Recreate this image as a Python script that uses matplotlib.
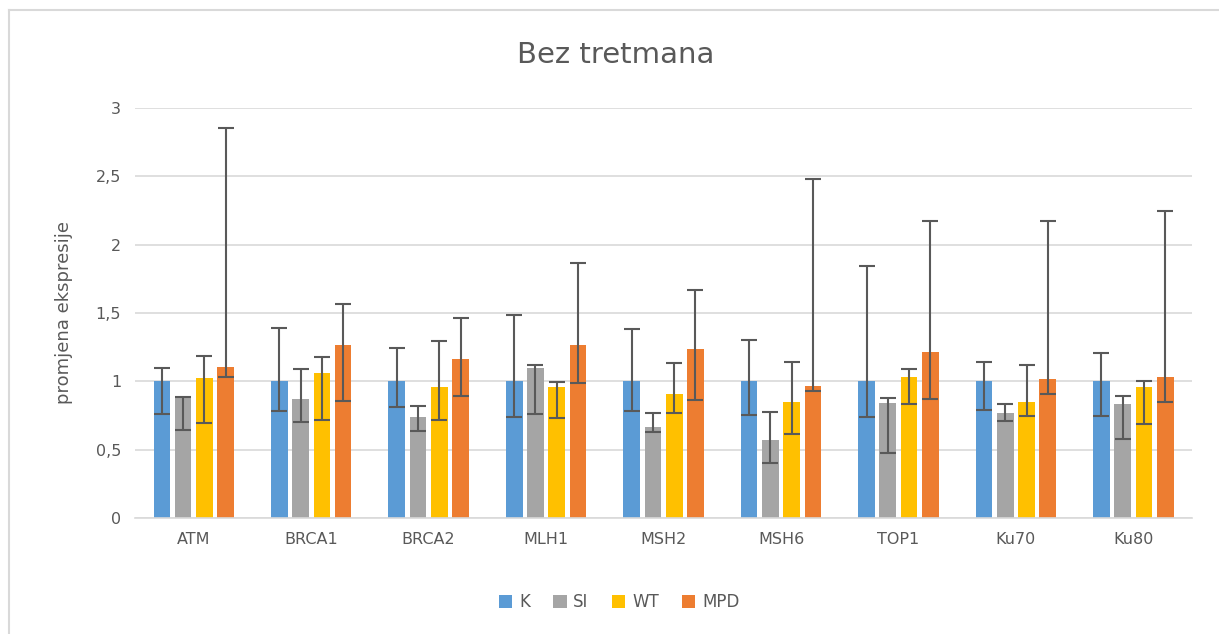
import numpy as np
import matplotlib
matplotlib.use("Agg")
import matplotlib.pyplot as plt
from matplotlib.lines import Line2D

genes = ["ATM", "BRCA1", "BRCA2", "MLH1", "MSH2", "MSH6", "TOP1", "Ku70", "Ku80"]
series = ["K", "SI", "WT", "MPD"]
colors = ["#5B9BD5", "#A5A5A5", "#FFC000", "#ED7D31"]

# bar heights
k_vals = [1.0, 1.0, 1.0, 1.0, 1.0, 1.0, 1.0, 1.0, 1.0]
si_vals = [0.876, 0.868, 0.739, 1.098, 0.666, 0.568, 0.844, 0.766, 0.837]
wt_vals = [1.027, 1.061, 0.959, 0.959, 0.907, 0.849, 1.029, 0.846, 0.959]
mpd_vals = [1.105, 1.268, 1.161, 1.266, 1.234, 0.966, 1.212, 1.020, 1.029]

# error bar ends (upper / lower)
k_hi = [1.10, 1.388, 1.244, 1.488, 1.385, 1.302, 1.846, 1.139, 1.207]
k_lo = [0.759, 0.785, 0.815, 0.737, 0.783, 0.751, 0.741, 0.790, 0.746]
si_hi = [0.883, 1.093, 0.822, 1.119, 0.766, 0.776, 0.880, 0.832, 0.893]
si_lo = [0.642, 0.705, 0.637, 0.761, 0.627, 0.402, 0.476, 0.710, 0.581]
wt_hi = [1.183, 1.178, 1.295, 0.993, 1.137, 1.139, 1.090, 1.119, 1.003]
wt_lo = [0.695, 0.719, 0.717, 0.729, 0.771, 0.617, 0.834, 0.749, 0.690]
mpd_hi = [2.851, 1.568, 1.461, 1.866, 1.668, 2.48, 2.176, 2.176, 2.244]
mpd_lo = [1.034, 0.858, 0.890, 0.990, 0.866, 0.932, 0.873, 0.907, 0.849]

values = [k_vals, si_vals, wt_vals, mpd_vals]
highs = [k_hi, si_hi, wt_hi, mpd_hi]
lows = [k_lo, si_lo, wt_lo, mpd_lo]

plt.rcParams['font.family'] = ['DejaVu Sans']
fig = plt.figure(figsize=(12.19, 6.34), dpi=100)
ax = fig.add_axes([0.1108, 0.183, 0.8671, 0.6467])

x = np.arange(len(genes))
step = 0.181
width = 0.142
for i, name in enumerate(series):
    pos = x + (i - 1.5) * step
    v = np.array(values[i])
    hi = np.array(highs[i])
    lo = np.array(lows[i])
    ax.bar(pos, v, width, color=colors[i], label=name, zorder=2)
    ax.errorbar(pos, v, yerr=[v - lo, hi - v], fmt="none", ecolor="#595959",
                elinewidth=1.5, capsize=6, capthick=1.5, zorder=3)

ax.set_xlim(-0.5, len(genes) - 0.5)
ax.set_ylim(0, 3)
ax.set_yticks([0, 0.5, 1, 1.5, 2, 2.5, 3])
ax.set_yticklabels(["0", "0,5", "1", "1,5", "2", "2,5", "3"])
ax.set_xticks(x)
ax.set_xticklabels(genes)
ax.tick_params(axis="both", length=0, labelsize=11.5, colors="#595959", pad=10)
ax.grid(axis="y", color="#D9D9D9", linewidth=1.2, zorder=0)
ax.set_axisbelow(True)
for s in ["top", "right", "left"]:
    ax.spines[s].set_visible(False)
ax.spines["bottom"].set_color("#D9D9D9")
ax.spines["bottom"].set_linewidth(1.2)

ax.set_ylabel("promjena ekspresije", fontsize=13, color="#595959", labelpad=16)
fig.text(0.505, 0.913, "Bez tretmana", ha="center", va="center", fontsize=21, color="#595959")

handles, labels = ax.get_legend_handles_labels()
leg = fig.legend(handles, labels, loc="center", bbox_to_anchor=(0.508, 0.05), ncol=4,
                 frameon=False, fontsize=12, handlelength=0.8, handleheight=0.8,
                 columnspacing=1.4, handletextpad=0.4)
for t in leg.get_texts():
    t.set_color("#595959")

# chart frame: only left and top edges are inside the image
bx = 8.5 / 1219
by = 1 - 9.5 / 634
fig.lines.append(Line2D([bx, bx], [0, by], transform=fig.transFigure,
                        color="#D9D9D9", linewidth=1.5))
fig.lines.append(Line2D([bx, 1], [by, by], transform=fig.transFigure,
                        color="#D9D9D9", linewidth=1.5))

fig.savefig("out.png", dpi=100)
